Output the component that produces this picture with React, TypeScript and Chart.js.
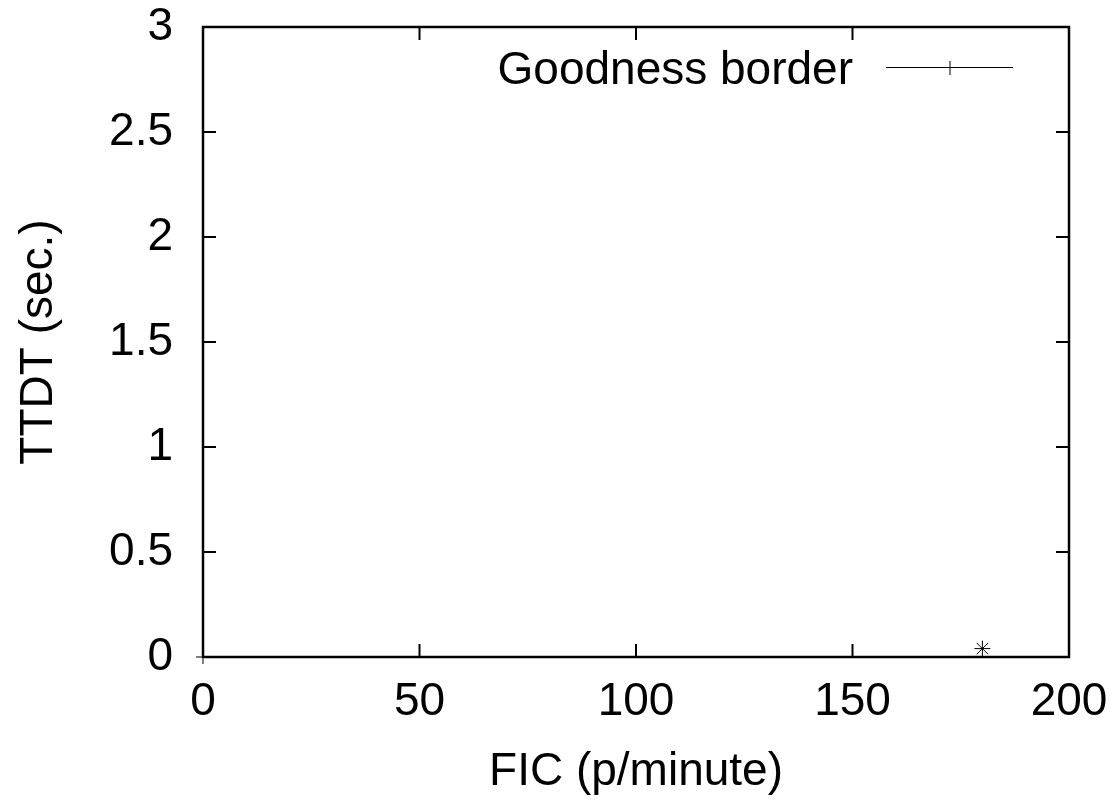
import React, { useEffect, useRef } from "react";
import { Chart, registerables } from "chart.js";

Chart.register(...registerables);

// ---- data ----
const borderX = [0];
const borderY = [0];
const markX = [180];
const markY = [0.04];
const xTicks = [0, 50, 100, 150, 200];
const yTicks = [0, 0.5, 1, 1.5, 2, 2.5, 3];
const xTickLabels = ["0", "50", "100", "150", "200"];
const yTickLabels = ["0", "0.5", "1", "1.5", "2", "2.5", "3"];
const legendLabel = "Goodness border";
const xTitle = "FIC (p/minute)";
const yTitle = "TTDT (sec.)";

const FONT = "'Liberation Sans', Arial, Helvetica, sans-serif";
const FSIZE = 46;

const framePlugin = {
  id: "gnuFrame",
  beforeDatasetsDraw(chart: any) {
    const { ctx, chartArea } = chart;
    const { left, right, top, bottom } = chartArea;
    const xs = chart.scales.x;
    const ys = chart.scales.y;
    const tl = 13;
    ctx.save();
    ctx.strokeStyle = "#000";
    ctx.lineWidth = 2;
    ctx.beginPath();
    xTicks.forEach((v) => {
      const px = xs.getPixelForValue(v);
      ctx.moveTo(px, bottom);
      ctx.lineTo(px, bottom - tl);
      ctx.moveTo(px, top);
      ctx.lineTo(px, top + tl);
    });
    yTicks.forEach((v) => {
      const py = ys.getPixelForValue(v);
      ctx.moveTo(left, py);
      ctx.lineTo(left + tl, py);
      ctx.moveTo(right, py);
      ctx.lineTo(right - tl, py);
    });
    ctx.stroke();
    ctx.lineWidth = 2.5;
    ctx.strokeRect(left, top, right - left, bottom - top);
    ctx.restore();
  },
  afterDraw(chart: any) {
    const { ctx } = chart;
    ctx.save();
    ctx.fillStyle = "#000";
    ctx.font = `${FSIZE}px ${FONT}`;
    ctx.textAlign = "right";
    ctx.textBaseline = "alphabetic";
    ctx.fillText(legendLabel, 853, 84);
    ctx.strokeStyle = "#000";
    ctx.lineWidth = 1;
    ctx.beginPath();
    ctx.moveTo(886, 67.5);
    ctx.lineTo(1013, 67.5);
    ctx.moveTo(950, 61);
    ctx.lineTo(950, 75);
    ctx.stroke();
    ctx.restore();
  },
};

export default function App() {
  const ref = useRef<HTMLCanvasElement | null>(null);
  useEffect(() => {
    if (!ref.current) return;
    const chart = new Chart(ref.current, {
      type: "scatter",
      data: {
        datasets: [
          {
            label: legendLabel,
            data: borderX.map((x, i) => ({ x, y: borderY[i] })),
            showLine: true,
            borderColor: "#000",
            backgroundColor: "#000",
            borderWidth: 1,
            pointStyle: "cross",
            pointRadius: 7,
            pointBorderWidth: 1,
            clip: false,
          } as any,
          {
            label: "",
            data: markX.map((x, i) => ({ x, y: markY[i] })),
            showLine: false,
            borderColor: "#000",
            backgroundColor: "#000",
            pointStyle: "star",
            pointRadius: 8,
            pointBorderWidth: 1,
            clip: false,
          } as any,
        ],
      },
      options: {
        animation: false,
        responsive: false,
        events: [],
        layout: { padding: { left: 0, top: 27, right: 44, bottom: 0 } },
        plugins: {
          legend: { display: false },
          tooltip: { enabled: false },
        },
        scales: {
          x: {
            type: "linear",
            min: 0,
            max: 200,
            grid: { display: false, drawTicks: false },
            border: { display: false },
            afterBuildTicks: (s: any) => {
              s.ticks = xTicks.map((v) => ({ value: v }));
            },
            afterFit: (s: any) => {
              s.height = 143;
              s.paddingLeft = 0;
              s.paddingRight = 0;
            },
            ticks: {
              padding: 18,
              color: "#000",
              maxRotation: 0,
              font: { family: FONT, size: FSIZE },
              callback: (v: any) => xTickLabels[xTicks.indexOf(Number(v))] ?? "",
            },
            title: {
              display: true,
              text: xTitle,
              color: "#000",
              font: { family: FONT, size: FSIZE },
              padding: { top: 0, bottom: 0 },
            },
          },
          y: {
            type: "linear",
            min: 0,
            max: 3,
            grid: { display: false, drawTicks: false },
            border: { display: false },
            afterBuildTicks: (s: any) => {
              s.ticks = yTicks.map((v) => ({ value: v }));
            },
            afterFit: (s: any) => {
              s.width = 203;
              s.paddingTop = 0;
              s.paddingBottom = 0;
            },
            ticks: {
              padding: 30,
              color: "#000",
              font: { family: FONT, size: FSIZE },
              callback: (v: any) => yTickLabels[yTicks.indexOf(Number(v))] ?? "",
            },
            title: {
              display: true,
              text: yTitle,
              color: "#000",
              font: { family: FONT, size: FSIZE },
              padding: { top: 12, bottom: 0 },
            },
          },
        },
      },
      plugins: [framePlugin],
    } as any);
    return () => chart.destroy();
  }, []);
  return (
    <div style={{ position: "absolute", left: 0, top: 0, width: 1113, height: 800, background: "#fff" }}>
      <canvas ref={ref} width={1113} height={800} style={{ display: "block" }} />
    </div>
  );
}
